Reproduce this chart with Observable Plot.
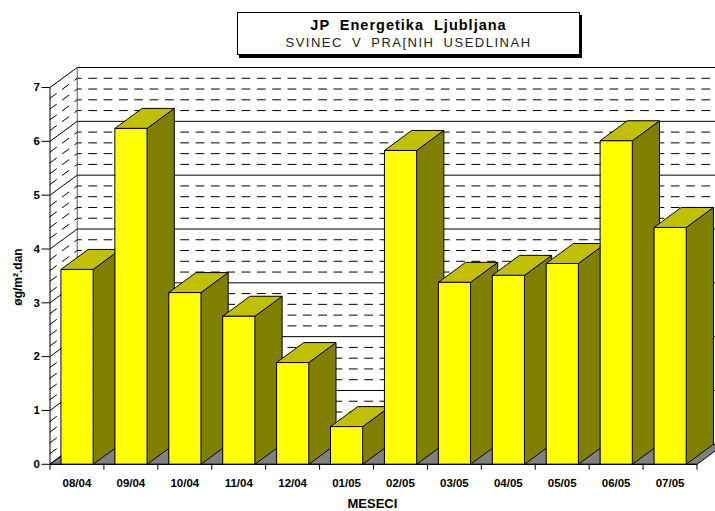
<!DOCTYPE html>
<html>
<head>
<meta charset="utf-8">
<script src="https://cdn.jsdelivr.net/npm/d3@7"></script>
<script src="https://cdn.jsdelivr.net/npm/@observablehq/plot@0.6"></script>
<style>
html,body{margin:0;padding:0;background:#fff;overflow:hidden}
body{width:715px;height:511px;font-family:"Liberation Sans",Arial,sans-serif}
#head{height:60px;position:relative}
#box{position:absolute;left:237px;top:12px;width:341px;height:41px;border:1px solid #000;box-shadow:2px 3px 0 #000;background:#fff;text-align:center;color:#000}
#t1{font-weight:bold;font-size:14.5px;line-height:15px;margin-top:5px;word-spacing:5px;letter-spacing:1px}
#t2{font-size:13px;line-height:15px;margin-top:2px;word-spacing:4px;letter-spacing:1.5px;color:#222}
svg{display:block}
</style>
</head>
<body>
<div id="head"><div id="box"><div id="t1"></div><div id="t2"></div></div></div>
<div id="chart"></div>
<script>
const titleText = "JP Energetika Ljubljana";
const subtitleText = "SVINEC V PRA[NIH USEDLINAH";
const yLabel = "øg/m².dan";
const xLabel = "MESECI";
const months = ["08/04","09/04","10/04","11/04","12/04","01/05","02/05","03/05","04/05","05/05","06/05","07/05"];
const lead = [3.62,6.24,3.19,2.75,1.89,0.70,5.83,3.38,3.51,3.73,6.01,4.40];
const yTicks = [0,1,2,3,4,5,6,7];
const minorTicks = [0.2,0.4,0.6,0.8,1.2,1.4,1.6,1.8,2.2,2.4,2.6,2.8,3.2,3.4,3.6,3.8,4.2,4.4,4.6,4.8,5.2,5.4,5.6,5.8,6.2,6.4,6.6,6.8];

document.getElementById("t1").textContent = titleText;
document.getElementById("t2").textContent = subtitleText;

// oblique depth of the 3-D box, expressed in data units
const depthX = 0.505, depthY = 0.3715;
const gap = 0.21, barW = 0.59;
const n = months.length;

const back = v => [{x:depthX,y:v+depthY},{x:n+depthX,y:v+depthY}];
const side = v => [{x:0,y:v},{x:depthX,y:v+depthY}];
const poly = (pts,o) => Plot.line(pts,{x:"x",y:"y",curve:"linear-closed",stroke:"#000",strokeWidth:1,strokeLinejoin:"miter",...o});
const line = (pts,o) => Plot.line(pts,{x:"x",y:"y",stroke:"#000",strokeWidth:1,...o});

const font = {fontFamily:"Liberation Sans, Arial, sans-serif",fontWeight:"bold"};
const marks = [];

// floor
marks.push(poly([{x:0,y:0},{x:n,y:0},{x:n+depthX,y:depthY},{x:depthX,y:depthY}],{fill:"#808080"}));
// wall grid
for (const v of minorTicks) {
  marks.push(line(back(v),{strokeDasharray:"8,7.33",strokeDashoffset:3.9}));
  marks.push(line(side(v),{strokeDasharray:"8,7.33"}));
}
for (const v of yTicks) {
  marks.push(line(back(v)));
  marks.push(line(side(v)));
}
// back-wall left edge
marks.push(line([{x:depthX,y:depthY},{x:depthX,y:yTicks[yTicks.length-1]+depthY}],{strokeWidth:1,stroke:"#555"}));

// bars
lead.forEach((v,i)=>{
  const a=i+gap,b=a+barW;
  marks.push(poly([{x:b,y:0},{x:b+depthX,y:depthY},{x:b+depthX,y:v+depthY},{x:b,y:v}],{fill:"#808000"}));
  marks.push(poly([{x:a,y:v},{x:b,y:v},{x:b+depthX,y:v+depthY},{x:a+depthX,y:v+depthY}],{fill:"#c0c000"}));
  marks.push(poly([{x:a,y:0},{x:b,y:0},{x:b,y:v},{x:a,y:v}],{fill:"#ffff00"}));
});

// axes
marks.push(Plot.ruleX([0],{stroke:"#000"}));
marks.push(Plot.ruleY([0],{stroke:"#000"}));
marks.push(Plot.axisY(yTicks,{tickSize:8,tickPadding:2,tickFormat:d=>String(d),label:null,fontSize:11.5,...font,color:"#000"}));
marks.push(Plot.axisX(d3.range(n+1),{tickSize:6,tickFormat:()=>"",label:null,color:"#000"}));
marks.push(Plot.axisX(months.map((_,i)=>i+0.5),{tickSize:0,tickPadding:15,tickFormat:d=>months[d-0.5],label:null,fontSize:11.5,...font,color:"#000"}));
marks.push(Plot.text([yLabel],{frameAnchor:"left",y:[3.48],dx:-32,rotate:-90,textAnchor:"middle",text:d=>d,fontSize:12,fill:"#000",...font}));
marks.push(Plot.text([xLabel],{frameAnchor:"bottom",x:[5.98],dy:44,text:d=>d,fontSize:13,fill:"#000",...font}));

const chart = Plot.plot({
  width:715,height:451,
  marginLeft:49.5,marginRight:18.5,marginTop:27,marginBottom:47.2,
  x:{type:"linear",domain:[0,n],range:[49.5,696.5],axis:null},
  y:{type:"linear",domain:[0,7],range:[403.8,27],axis:null},
  style:{background:"#fff"},
  marks
});
document.getElementById("chart").append(chart);
</script>
</body>
</html>
